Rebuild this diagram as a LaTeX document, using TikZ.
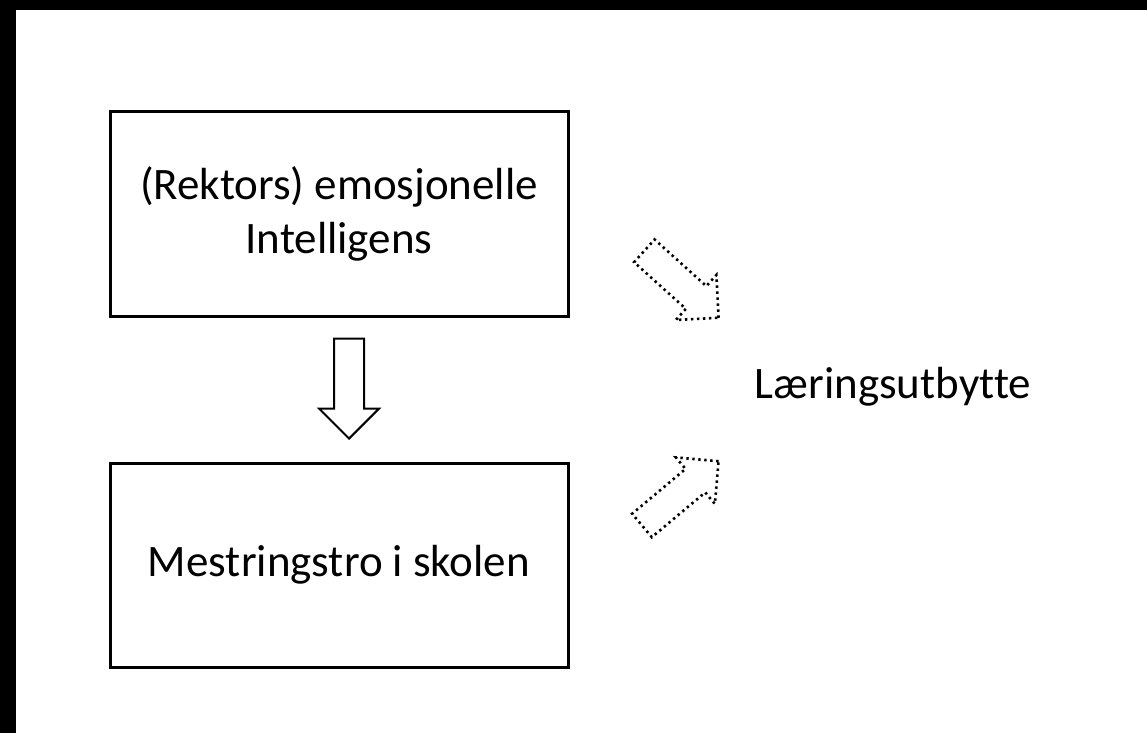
\documentclass[tikz,border=0pt]{standalone}
\usepackage{fontspec}
\setmainfont{Carlito}[Ligatures=CommonOff]
\usetikzlibrary{shapes.arrows}

\tikzset{
  box/.style={draw,line width=1.5pt,fill=white,minimum width=229pt,minimum height=102pt,align=center,font=\fontsize{22.5}{27}\selectfont},
  blockarrow/.style={single arrow,draw,line width=1pt,inner sep=0pt,inner ysep=7pt,single arrow head extend=7.5pt,single arrow tip angle=90,minimum height=50pt},
  dotarrow/.style={blockarrow,line width=1.3pt,dash pattern=on 1.2pt off 1.8pt}
}

\begin{document}
\begin{tikzpicture}[x=0.5pt,y=-0.5pt]
  \useasboundingbox (0,0) rectangle (1147,733);
  \fill[black] (0,0) rectangle (1147,733);
  \fill[white] (16,10) rectangle (1147,733);

  \node (rektor) at (339,214) [box]{(Rektors) emosjonelle\\Intelligens};
  \node (mestring) at (339,565) [box]{Mestringstro i skolen};
  \node (utbytte) at (893,387) [font=\fontsize{22.5}{27}\selectfont]{Læringsutbytte};

  \node (pil) at (349,440) [blockarrow,rotate=-90,anchor=tip]{};
  \node (pilA) at (720,319) [dotarrow,rotate=-42,anchor=tip]{};
  \node (pilB) at (720,460) [dotarrow,rotate=40,anchor=tip]{};

\end{tikzpicture}
\end{document}
